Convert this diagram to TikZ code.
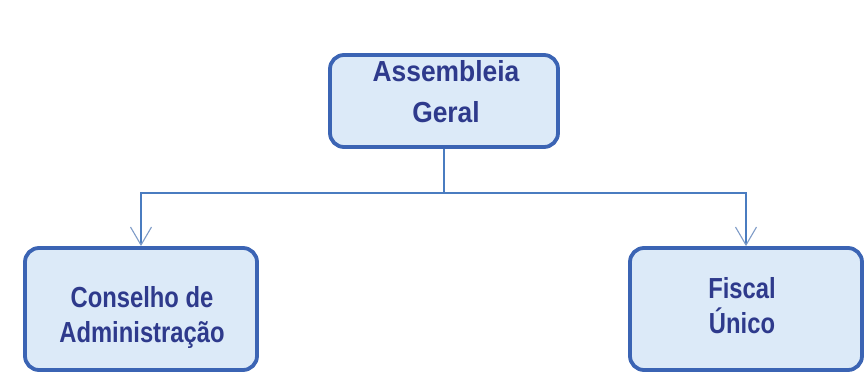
\documentclass[tikz,border=0pt]{standalone}
\usepackage{fontspec}
\setmainfont{Liberation Sans}
\newfontfamily\topfont[FakeStretch=0.91]{Liberation Sans}
\newfontfamily\lowfont[FakeStretch=0.82]{Liberation Sans}
\usetikzlibrary{arrows.meta}
\definecolor{boxfill}{HTML}{DCEAF8}
\definecolor{boxline}{HTML}{3B64B4}
\definecolor{txt}{HTML}{2E3A8C}
\definecolor{conn}{HTML}{4A7CC0}
\definecolor{barb}{HTML}{7F9CC8}
\begin{document}
\begin{tikzpicture}[x=1pt,y=-1pt,
  orgbox/.style={draw=boxline, fill=boxfill, line width=3.8pt, rounded corners=14pt, inner sep=0pt},
  topbox/.style={orgbox, minimum width=228pt, minimum height=92pt},
  lowbox/.style={orgbox, minimum width=232pt, minimum height=122pt},
  toptext/.style={align=center, text=txt, inner sep=0pt,
    font=\topfont\bfseries\fontsize{29}{41}\selectfont},
  lowtext/.style={align=center, text=txt, inner sep=0pt,
    font=\lowfont\bfseries\fontsize{29}{35}\selectfont},
  link/.style={draw=conn, line width=1.4pt},
  linkarrow/.style={link, -{Straight Barb[length=18pt, width=21pt, line width=1.1pt, color=barb]}}]
\useasboundingbox (0,0) rectangle (868,388);
\fill[white] (0,0) rectangle (868,388);
\node[topbox] (top) at (444,101) {};
\node[lowbox] (left) at (141,309) {};
\node[lowbox] (right) at (746,309) {};
\node[toptext] (toplabel) at (446,92) {Assembleia\\Geral};
\node[lowtext] (leftlabel) at (142,317) {Conselho de\\Administração};
\node[lowtext] (rightlabel) at (742,306) {Fiscal\\Único};
\coordinate (j) at (top.south |- 0,193);
\draw[link] (top.south) -- (j);
\draw[linkarrow] (j) -| (left.north);
\draw[linkarrow] (j) -| (right.north);
\end{tikzpicture}
\end{document}
